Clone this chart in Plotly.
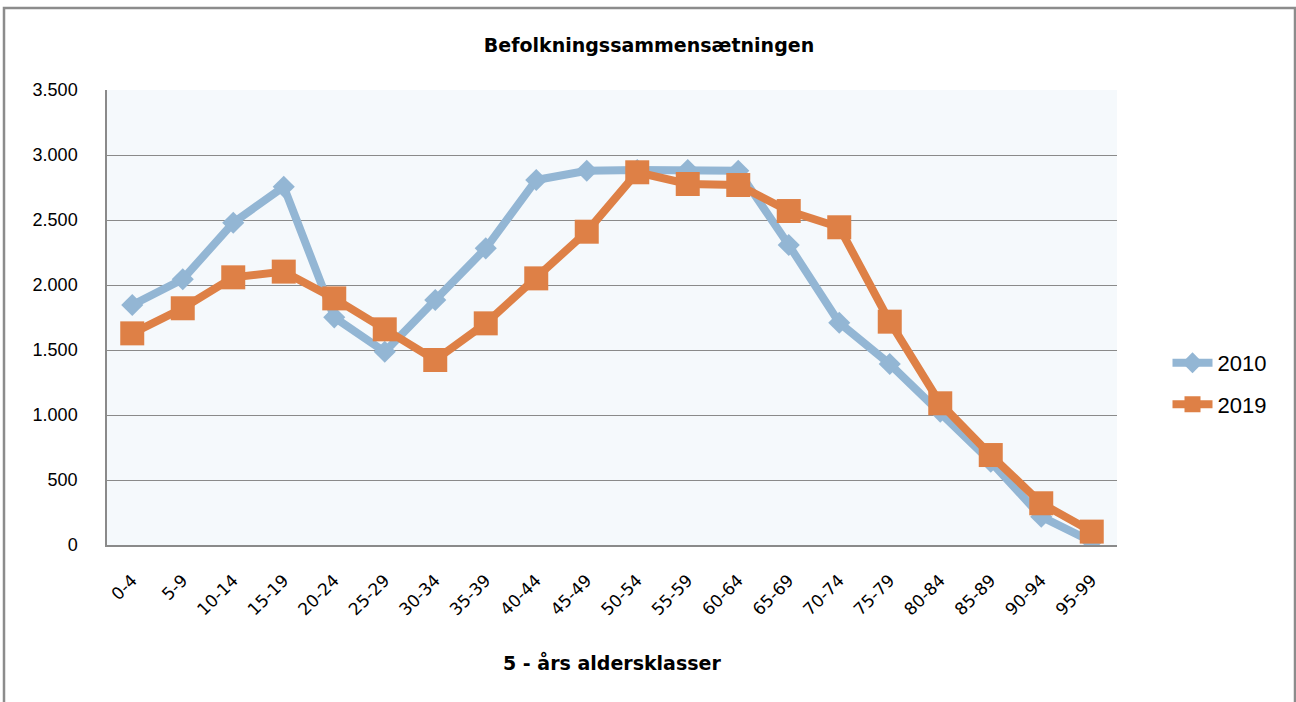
import plotly.graph_objects as go

categories = ["0-4", "5-9", "10-14", "15-19", "20-24", "25-29", "30-34", "35-39",
              "40-44", "45-49", "50-54", "55-59", "60-64", "65-69", "70-74", "75-79",
              "80-84", "85-89", "90-94", "95-99"]
values_2010 = [1846, 2044, 2479, 2756, 1751, 1487, 1885, 2282, 2808, 2879,
               2885, 2885, 2879, 2308, 1710, 1392, 1026, 641, 218, 26]
values_2019 = [1628, 1821, 2059, 2103, 1897, 1659, 1423, 1705, 2051, 2410,
               2867, 2777, 2769, 2569, 2444, 1718, 1090, 692, 321, 103]
y_ticks = [0, 500, 1000, 1500, 2000, 2500, 3000, 3500]

BLUE = "#93B6D4"
ORANGE = "#DE8046"

fig = go.Figure()
fig.add_trace(go.Scatter(
    x=categories, y=values_2010, name="2010", mode="lines+markers",
    legendgroup="a",
    line=dict(color=BLUE, width=8),
    marker=dict(symbol="diamond", size=17, color=BLUE),
))
fig.add_trace(go.Scatter(
    x=categories, y=values_2019, name="2019", mode="lines+markers",
    legendgroup="b",
    line=dict(color=ORANGE, width=8),
    marker=dict(symbol="square", size=24, color=ORANGE),
))

fig.update_layout(
    width=1296, height=702,
    margin=dict(l=107, r=179, t=90, b=157),
    paper_bgcolor="white",
    plot_bgcolor="#F5F9FC",
    separators=",.",
    font=dict(family="Liberation Sans, Arial, sans-serif", color="black"),
    title=dict(text="<b>Befolkningssammensætningen</b>", x=649 / 1296, xanchor="center",
               xref="container", y=1 - 45 / 702, yanchor="middle",
               font=dict(family="DejaVu Sans, sans-serif", size=19)),
    legend=dict(x=1.05, y=0.354, xanchor="left", yanchor="middle",
                font=dict(size=22), tracegroupgap=10, itemwidth=40,
                bgcolor="rgba(0,0,0,0)"),
    showlegend=True,
    xaxis=dict(
        type="category", tickangle=-45,
        tickfont=dict(family="DejaVu Sans, sans-serif", size=17),
        showgrid=False, showline=True, linecolor="#8A8A8A", linewidth=1.5,
        ticks="", ticklabelstandoff=17,
        range=[-0.5, len(categories) - 0.5],
    ),
    yaxis=dict(
        range=[0, 3500], tickvals=y_ticks, tickformat=",d",
        tickfont=dict(size=18),
        showgrid=True, gridcolor="#8A8A8A", gridwidth=1,
        showline=True, linecolor="#8A8A8A", linewidth=1.5,
        zeroline=False, ticks="", ticklabelstandoff=24,
    ),
    annotations=[
        dict(text="<b>5 - års aldersklasser</b>", xref="paper", yref="paper",
             x=0.5, y=(545 - 662) / 455, xanchor="center", yanchor="middle",
             showarrow=False, font=dict(family="DejaVu Sans, sans-serif", size=19)),
    ],
    shapes=[
        dict(type="rect", xref="paper", yref="paper",
             x0=(4 - 107) / 1010, x1=(1295 - 107) / 1010,
             y0=(545 - 720) / 455, y1=(545 - 8) / 455,
             line=dict(color="#8C8C8C", width=2.5), layer="below"),
    ],
)

fig.write_html("out.html", config={"displayModeBar": False},
               post_script="document.body.style.margin='0';")
